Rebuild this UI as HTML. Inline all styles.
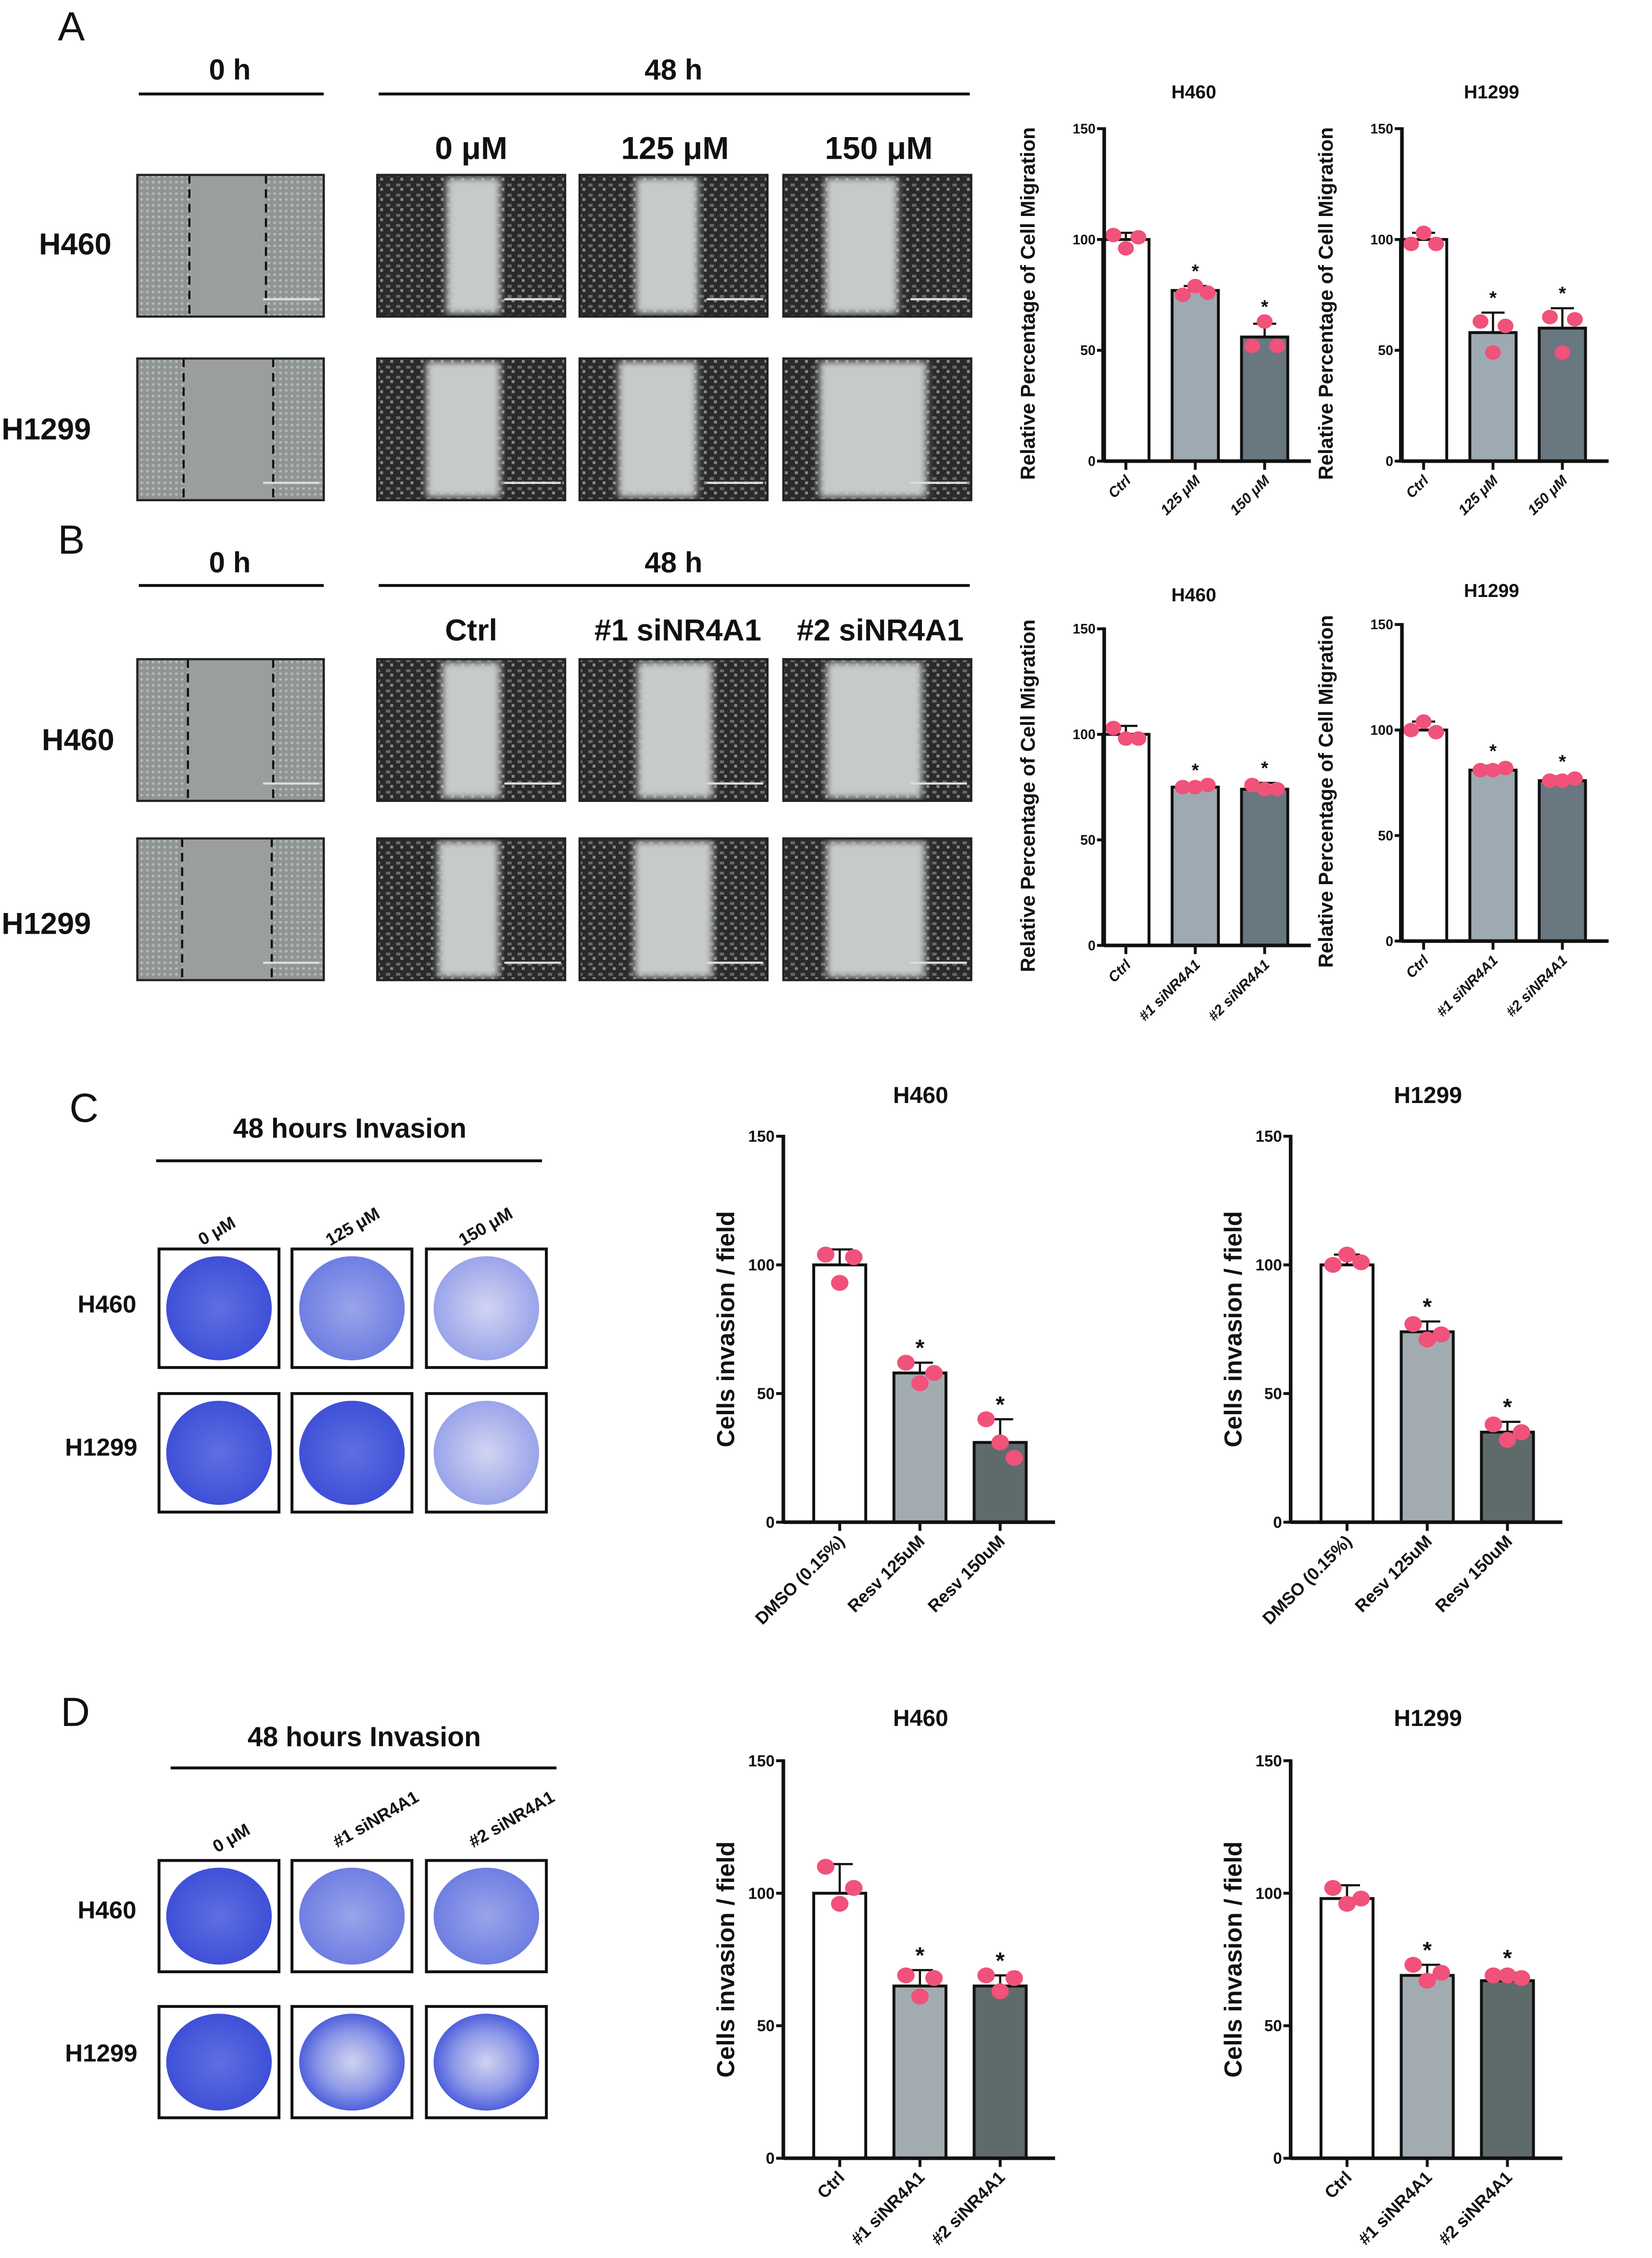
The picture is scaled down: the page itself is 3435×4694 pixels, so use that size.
<!DOCTYPE html>
<html><head><meta charset="utf-8"><style>
html,body{margin:0;padding:0;background:#fff;}
svg{display:block;}
text{font-family:"Liberation Sans",sans-serif;font-weight:bold;fill:#111;}
</style></head><body>
<svg id="fig" xmlns="http://www.w3.org/2000/svg" width="3435" height="4694" viewBox="0 0 1143 1562">
<defs>
<pattern id="cells" width="4" height="4" patternUnits="userSpaceOnUse"><rect width="4" height="4" fill="#8f9494"/><circle cx="2" cy="2" r="1" fill="#b4b8b8"/></pattern>
<pattern id="dark" width="7" height="7" patternUnits="userSpaceOnUse"><rect width="7" height="7" fill="#2a2a2a"/><rect x="1" y="1" width="3" height="2" fill="#6a6a6a"/><rect x="4" y="4" width="2" height="2" fill="#8a8a8a"/></pattern>
<filter id="soft"><feGaussianBlur stdDeviation="2.5"/></filter>
<radialGradient id="dishA" cx="50%" cy="50%" r="50%"><stop offset="0" stop-color="#5f6fe0"/><stop offset="1" stop-color="#3f50d8"/></radialGradient>
<radialGradient id="dishB" cx="50%" cy="50%" r="50%"><stop offset="0" stop-color="#9aa4ea"/><stop offset="1" stop-color="#6f7ee2"/></radialGradient>
<radialGradient id="dishC" cx="50%" cy="50%" r="50%"><stop offset="0" stop-color="#d2d5f2"/><stop offset="1" stop-color="#9aa4ea"/></radialGradient>
<radialGradient id="dishD" cx="50%" cy="50%" r="50%"><stop offset="0" stop-color="#d0d3f0"/><stop offset="0.6" stop-color="#8f9be8"/><stop offset="1" stop-color="#4f60dc"/></radialGradient>
</defs>
<g id="static">
<text x="40" y="28" font-size="28" style="font-weight:normal">A</text>
<text x="40" y="383" font-size="28" style="font-weight:normal">B</text>
<text x="48" y="776" font-size="28" style="font-weight:normal">C</text>
<text x="42" y="1194" font-size="28" style="font-weight:normal">D</text>
<text x="159" y="55" font-size="20" text-anchor="middle">0 h</text>
<line x1="96" y1="65" x2="224" y2="65" stroke="#111" stroke-width="2"/>
<text x="466" y="55" font-size="20" text-anchor="middle">48 h</text>
<line x1="262" y1="65" x2="671" y2="65" stroke="#111" stroke-width="2"/>
<text x="326" y="110" font-size="22" text-anchor="middle">0 μM</text>
<text x="467" y="110" font-size="22" text-anchor="middle">125 μM</text>
<text x="608" y="110" font-size="22" text-anchor="middle">150 μM</text>
<text x="52" y="176" font-size="21" text-anchor="middle">H460</text>
<text x="32" y="304" font-size="21" text-anchor="middle">H1299</text>
<text x="159" y="396" font-size="20" text-anchor="middle">0 h</text>
<line x1="96" y1="405" x2="224" y2="405" stroke="#111" stroke-width="2"/>
<text x="466" y="396" font-size="20" text-anchor="middle">48 h</text>
<line x1="262" y1="405" x2="671" y2="405" stroke="#111" stroke-width="2"/>
<text x="326" y="443" font-size="21" text-anchor="middle">Ctrl</text>
<text x="469" y="443" font-size="21" text-anchor="middle">#1 siNR4A1</text>
<text x="609" y="443" font-size="21" text-anchor="middle">#2 siNR4A1</text>
<text x="54" y="519" font-size="21" text-anchor="middle">H460</text>
<text x="32" y="646" font-size="21" text-anchor="middle">H1299</text>
<text x="242" y="787" font-size="19" text-anchor="middle">48 hours Invasion</text>
<line x1="108" y1="803" x2="375" y2="803" stroke="#111" stroke-width="2"/>
<text transform="translate(152,855) rotate(-30)" font-size="12" text-anchor="middle">0 μM</text>
<text transform="translate(246,852) rotate(-30)" font-size="12" text-anchor="middle">125 μM</text>
<text transform="translate(338,852) rotate(-30)" font-size="12" text-anchor="middle">150 μM</text>
<text x="74" y="908" font-size="17" text-anchor="middle">H460</text>
<text x="70" y="1007" font-size="17" text-anchor="middle">H1299</text>
<text x="252" y="1208" font-size="19" text-anchor="middle">48 hours Invasion</text>
<line x1="118" y1="1223" x2="385" y2="1223" stroke="#111" stroke-width="2"/>
<text transform="translate(162,1275) rotate(-30)" font-size="12" text-anchor="middle">0 μM</text>
<text transform="translate(262,1262) rotate(-30)" font-size="12" text-anchor="middle">#1 siNR4A1</text>
<text transform="translate(356,1262) rotate(-30)" font-size="12" text-anchor="middle">#2 siNR4A1</text>
<text x="74" y="1327" font-size="17" text-anchor="middle">H460</text>
<text x="70" y="1426" font-size="17" text-anchor="middle">H1299</text>
</g>
<g id="images"></g>
<g id="charts"></g>
</svg>
<script>
// ===== chart data =====
var catsA = ["Ctrl", "125 μM", "150 μM"];
var catsB = ["Ctrl", "#1 siNR4A1", "#2 siNR4A1"];
var catsC = ["DMSO (0.15%)", "Resv 125uM", "Resv 150uM"];
var catsD = ["Ctrl", "#1 siNR4A1", "#2 siNR4A1"];
var yTicks = [0, 50, 100, 150];

var aH460Means = [100, 77, 56];
var aH460Err = [103, 79, 62];
var aH460Pts = [[102, 96, 101], [75, 79, 76], [52, 63, 52]];
var aH1299Means = [100, 58, 60];
var aH1299Err = [103, 67, 69];
var aH1299Pts = [[98, 103, 98], [63, 49, 61], [65, 49, 64]];

var bH460Means = [100, 75, 74];
var bH460Err = [104, 76, 77];
var bH460Pts = [[103, 98, 98], [75, 75, 76], [76, 74, 74]];
var bH1299Means = [100, 81, 76];
var bH1299Err = [104, 83, 78];
var bH1299Pts = [[100, 104, 99], [81, 81, 82], [76, 76, 77]];

var cH460Means = [100, 58, 31];
var cH460Err = [106, 62, 40];
var cH460Pts = [[104, 93, 103], [62, 54, 58], [40, 31, 25]];
var cH1299Means = [100, 74, 35];
var cH1299Err = [104, 78, 39];
var cH1299Pts = [[100, 104, 101], [77, 71, 73], [38, 32, 35]];

var dH460Means = [100, 65, 65];
var dH460Err = [111, 71, 69];
var dH460Pts = [[110, 96, 102], [69, 61, 68], [69, 63, 68]];
var dH1299Means = [98, 69, 67];
var dH1299Err = [103, 73, 70];
var dH1299Pts = [[102, 96, 98], [73, 67, 70], [69, 69, 68]];

var NS = "http://www.w3.org/2000/svg";
function mk(tag, attrs, parent) {
  var e = document.createElementNS(NS, tag);
  for (var k in attrs) e.setAttribute(k, attrs[k]);
  parent.appendChild(e);
  return e;
}

var imgG = document.getElementById("images");
function scratch0(x, y, w, h, d1, d2, nm) {
  var g = mk("g", {}, imgG);
  
  
  mk("rect", {x: x, y: y, width: w, height: h, fill: "url(#cells)"}, g);
  mk("rect", {x: x + d1, y: y, width: d2 - d1, height: h, fill: "#9a9f9e"}, g);
  mk("line", {x1: x + d1, y1: y, x2: x + d1, y2: y + h, stroke: "#111", "stroke-width": 1.5, "stroke-dasharray": "6,4"}, g);
  mk("line", {x1: x + d2, y1: y, x2: x + d2, y2: y + h, stroke: "#111", "stroke-width": 1.5, "stroke-dasharray": "6,4"}, g);
  mk("line", {x1: x + w - 42, y1: y + h - 12, x2: x + w - 3, y2: y + h - 12, stroke: "#ddd", "stroke-width": 1.5}, g);
  mk("rect", {x: x, y: y, width: w, height: h, fill: "none", stroke: "#222", "stroke-width": 1.5}, g);
}
function scratch48(x, y, w, h, g1, g2, nm) {
  var g = mk("g", {}, imgG);
  
  
  mk("rect", {x: x, y: y, width: w, height: h, fill: "url(#dark)"}, g);
  mk("rect", {x: x + g1, y: y + 2, width: g2 - g1, height: h - 4, fill: "#c6cac9", filter: "url(#soft)"}, g);
  mk("line", {x1: x + w - 42, y1: y + h - 12, x2: x + w - 3, y2: y + h - 12, stroke: "#ddd", "stroke-width": 1.5}, g);
  mk("rect", {x: x, y: y, width: w, height: h, fill: "none", stroke: "#222", "stroke-width": 1.5}, g);
}
scratch0(95, 121, 129, 98, 36, 89, "a-h460-0h-image");
scratch0(95, 248, 129, 98, 32, 94, "a-h1299-0h-image");
scratch48(261, 121, 130, 98, 48, 85, "a-h460-0um-image");
scratch48(401, 121, 130, 98, 39, 82, "a-h460-125um-image");
scratch48(542, 121, 130, 98, 29, 79, "a-h460-150um-image");
scratch48(261, 248, 130, 98, 34, 85, "a-h1299-0um-image");
scratch48(401, 248, 130, 98, 27, 81, "a-h1299-125um-image");
scratch48(542, 248, 130, 98, 25, 99, "a-h1299-150um-image");
scratch0(95, 456, 129, 98, 35, 94, "b-h460-0h-image");
scratch0(95, 580, 129, 98, 31, 93, "b-h1299-0h-image");
scratch48(261, 456, 130, 98, 45, 85, "b-h460-ctrl-image");
scratch48(401, 456, 130, 98, 40, 92, "b-h460-si1-image");
scratch48(542, 456, 130, 98, 30, 96, "b-h460-si2-image");
scratch48(261, 580, 130, 98, 42, 84, "b-h1299-ctrl-image");
scratch48(401, 580, 130, 98, 38, 92, "b-h1299-si1-image");
scratch48(542, 580, 130, 98, 30, 98, "b-h1299-si2-image");

function dish(x, y, w, h, fill, nm) {
  var g = mk("g", {}, imgG);
  
  
  mk("rect", {x: x, y: y, width: w, height: h, fill: "#fff", stroke: "#111", "stroke-width": 2}, g);
  mk("ellipse", {cx: x + w / 2, cy: y + h / 2, rx: w / 2 - 5, ry: h / 2 - 5, fill: fill}, g);
}
dish(110, 864, 83, 82, "url(#dishA)", "c-h460-0um-dish");
dish(202, 864, 83, 82, "url(#dishB)", "c-h460-125um-dish");
dish(295, 864, 83, 82, "url(#dishC)", "c-h460-150um-dish");
dish(110, 964, 83, 82, "url(#dishA)", "c-h1299-0um-dish");
dish(202, 964, 83, 82, "url(#dishA)", "c-h1299-125um-dish");
dish(295, 964, 83, 82, "url(#dishC)", "c-h1299-150um-dish");
dish(110, 1287, 83, 77, "url(#dishA)", "d-h460-0um-dish");
dish(202, 1287, 83, 77, "url(#dishB)", "d-h460-si1-dish");
dish(295, 1287, 83, 77, "url(#dishB)", "d-h460-si2-dish");
dish(110, 1388, 83, 77, "url(#dishA)", "d-h1299-0um-dish");
dish(202, 1388, 83, 77, "url(#dishD)", "d-h1299-si1-dish");
dish(295, 1388, 83, 77, "url(#dishD)", "d-h1299-si2-dish");

var chartG = document.getElementById("charts");
function barChart(cfg, cats, means, errs, pts, prefix) {
  var g = mk("g", {}, chartG);
  
  
  function yS(v) { return cfg.y0 - (v / 150) * (cfg.y0 - cfg.y150); }
  function xS(i) { return cfg.x0 + cfg.first + i * cfg.step; }
  var t = mk("text", {x: cfg.titleX, y: cfg.titleY, "font-size": cfg.tf, "text-anchor": "middle"}, g);
  t.textContent = cfg.title;
  
  
  var ylAttrs = {transform: "translate(" + cfg.ylX + "," + cfg.ylY + ") rotate(-90)", "font-size": cfg.yf, "text-anchor": "middle"};
  if (cfg.ylLen) { ylAttrs.textLength = cfg.ylLen; ylAttrs.lengthAdjust = "spacingAndGlyphs"; }
  var yl = mk("text", ylAttrs, g);
  yl.textContent = cfg.ylabel;
  
  
  for (var i = 0; i < cats.length; i++) {
    var cx = xS(i), top = yS(means[i]);
    var b = mk("rect", {x: cx - cfg.bw / 2, y: top, width: cfg.bw, height: cfg.y0 - top, fill: cfg.fills[i], stroke: "#111", "stroke-width": 2}, g);
    
    
    var ey = yS(errs[i]);
    var e = mk("path", {d: "M" + cx + "," + top + "V" + ey + "M" + (cx - cfg.bw / 4) + "," + ey + "H" + (cx + cfg.bw / 4), stroke: "#111", "stroke-width": 1.5, fill: "none"}, g);
    
    
    var offs = [-cfg.bw * 0.27, 0, cfg.bw * 0.27];
    var p = pts[i];
    for (var k = 0; k < p.length; k++) {
      var pt = mk("ellipse", {cx: cx + offs[k], cy: yS(p[k]), rx: cfg.pr * 1.1, ry: cfg.pr, fill: "#f0527a"}, g);
      
      
    }
    if (i > 0) {
      var st = mk("text", {x: cx, y: yS(Math.max(errs[i], Math.max.apply(null, p))) - cfg.pr - 8 + cfg.tf * 0.55, "font-size": cfg.tf, "text-anchor": "middle"}, g);
      st.textContent = "*";
      
      
    }
    mk("line", {x1: cx, y1: cfg.y0, x2: cx, y2: cfg.y0 + 6, stroke: "#111", "stroke-width": 2}, g);
    var la = {transform: "translate(" + (cx + 4) + "," + (cfg.y0 + 14) + ") rotate(-45)", "font-size": cfg.xf, "text-anchor": "end"};
    if (cfg.italic) la["font-style"] = "italic";
    var lab = mk("text", la, g);
    lab.textContent = cats[i];
    
    
  }
  var ax = mk("line", {x1: cfg.x0, y1: cfg.y150 - 1, x2: cfg.x0, y2: cfg.y0 + 1, stroke: "#111", "stroke-width": 2.5}, g);
  
  
  var xa = mk("line", {x1: cfg.x0, y1: cfg.y0, x2: cfg.xEnd, y2: cfg.y0, stroke: "#111", "stroke-width": 2.5}, g);
  
  
  for (var j = 0; j < yTicks.length; j++) {
    var ty = yS(yTicks[j]);
    mk("line", {x1: cfg.x0 - 5, y1: ty, x2: cfg.x0, y2: ty, stroke: "#111", "stroke-width": 2}, g);
    var tl = mk("text", {x: cfg.x0 - 6, y: ty + cfg.kf * 0.35, "font-size": cfg.kf, "text-anchor": "end"}, g);
    tl.textContent = yTicks[j];
    
    
  }
}
var fillsAB = ["#ffffff", "#9eaab1", "#697780"];
var fillsCD = ["#ffffff", "#a2acb0", "#5f6a6a"];
var ylAB = "Relative Percentage of Cell Migration";
var ylCD = "Cells invasion / field";
function cfgAB(x0, y150, y0, title, tY) {
  return {x0: x0, y0: y0, y150: y150, first: 15, step: 48, bw: 32, xEnd: x0 + 143, fills: fillsAB, pr: 5,
    title: title, titleX: x0 + 62, titleY: tY, tf: 13, ylabel: ylAB, ylX: x0 - 48, ylY: (y0 + y150) / 2 + 6, ylLen: 244, yf: 14, kf: 9.5, xf: 10, italic: true};
}
function cfgCD(x0, y150, y0, title, tY) {
  return {x0: x0, y0: y0, y150: y150, first: 39, step: 55.5, bw: 36, xEnd: x0 + 188, fills: fillsCD, pr: 5.5,
    title: title, titleX: x0 + 95, titleY: tY, tf: 16, ylabel: ylCD, ylX: x0 - 34, ylY: (y0 + y150) / 2, yf: 17, kf: 11, xf: 12};
}
barChart(cfgAB(764, 89, 319, "H460", 68), catsA, aH460Means, aH460Err, aH460Pts, "a-h460");
barChart(cfgAB(970, 89, 319, "H1299", 68), catsA, aH1299Means, aH1299Err, aH1299Pts, "a-h1299");
barChart(cfgAB(764, 435, 654, "H460", 416), catsB, bH460Means, bH460Err, bH460Pts, "b-h460");
barChart(cfgAB(970, 432, 651, "H1299", 413), catsB, bH1299Means, bH1299Err, bH1299Pts, "b-h1299");
barChart(cfgCD(542, 786, 1053, "H460", 763), catsC, cH460Means, cH460Err, cH460Pts, "c-h460");
barChart(cfgCD(893, 786, 1053, "H1299", 763), catsC, cH1299Means, cH1299Err, cH1299Pts, "c-h1299");
barChart(cfgCD(542, 1218, 1493, "H460", 1194), catsD, dH460Means, dH460Err, dH460Pts, "d-h460");
barChart(cfgCD(893, 1218, 1493, "H1299", 1194), catsD, dH1299Means, dH1299Err, dH1299Pts, "d-h1299");
</script>
</body></html>
